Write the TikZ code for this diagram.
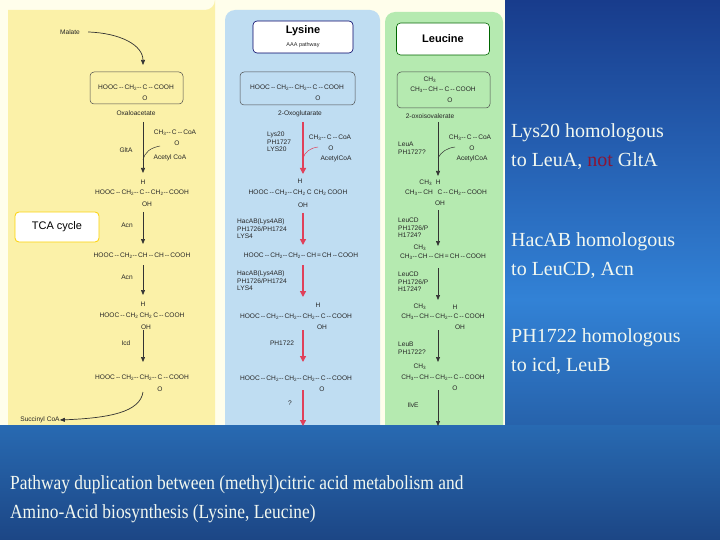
\documentclass[tikz,border=0pt]{standalone}
\usepackage{fontspec}
\setmainfont{Liberation Serif}
\newfontfamily\arialf{Liberation Sans}
\usetikzlibrary{arrows.meta}
\definecolor{ylw}{HTML}{FBF1A8}
\definecolor{blu}{HTML}{BFDDF2}
\definecolor{grn}{HTML}{B5EAB0}
\definecolor{redarr}{HTML}{E0405A}
\definecolor{txtw}{HTML}{F2F8F0}
\definecolor{notred}{HTML}{8A1535}
\definecolor{bgtop}{HTML}{183C8C}
\definecolor{bgmid}{HTML}{3282D6}
\definecolor{bgbot}{HTML}{1C4685}
\newcommand{\sbs}[1]{\textsubscript{#1}}
\begin{document}
\begin{tikzpicture}[x=1pt,y=-1pt,
  chem/.style={font=\arialf\fontsize{6.6}{7.5}\selectfont,inner sep=0pt,text=black!85},
  lbl/.style={chem,align=left,anchor=west},
  ttl/.style={font=\arialf\bfseries\fontsize{11}{12}\selectfont,inner sep=0pt},
  bx/.style={draw=black!70,rounded corners=4pt,line width=0.5pt},
  darr/.style={-{Triangle[length=5pt,width=4pt]},line width=0.7pt,black!80},
  rarr/.style={-{Triangle[length=6pt,width=6pt]},line width=1.3pt,redarr},
  side/.style={font=\fontsize{20}{22}\selectfont,anchor=west,inner sep=0pt,text=txtw},
  bot/.style={side,xscale=0.87}]
\useasboundingbox (0,0) rectangle (720,540);
\shade[top color=bgtop,bottom color=bgmid] (0,0) rectangle (720,300);
\shade[top color=bgmid,bottom color=bgbot] (0,299.5) rectangle (720,540);
% figure area
\fill[white!92!yellow] (0,0) rectangle (505,425);
\fill[ylw] (8,10) -- (205,10) arc[start angle=90,end angle=0,radius=10] -- (215,425) -- (8,425) -- cycle;
\fill[blu,rounded corners=10pt] (225,10) rectangle (380,440);
\fill[grn,rounded corners=10pt] (385,12) rectangle (503,440);
% bottom band
\shade[top color={rgb,255:red,40;green,106;blue,178},bottom color=bgbot] (0,425) rectangle (720,540);

% ===== Yellow / TCA =====
\node[chem] (malate) at (70,32) {Malate};
\node[chem] (oaa) at (136,88) {HOOC\,--\,CH\sbs{2}--\,C\,--\,COOH};
\node[chem] at (145,98) {O};
\draw[bx] (90,72) rectangle (183,104);
\node[chem] (oaal) at (136,113) {Oxaloacetate};
\draw[darr] (malate.east) ++(8,0) .. controls (120,33) and (143,45) .. (143,65);
\node[chem] (accoa1) at (175,133) {CH\sbs{3}--\,C\,--\,CoA};
\node[chem] at (177,143) {O};
\node[chem] at (170,158) {Acetyl CoA};
\node[chem] at (126,150) {GltA};
\coordinate (y1) at (143,122); \coordinate (y2) at (143,173);
\draw[darr] (y1) -- (y2);
\draw[black!80,line width=0.5pt] (160,146) .. controls (150,148) and (145,152) .. (143,160);
\node[chem] at (143,182) {H};
\node[chem] (c1) at (142,193) {HOOC\,--\,CH\sbs{2}--\,C\,--\,CH\sbs{2}--\,COOH};
\node[chem] at (147,204) {OH};
\node[draw=yellow!70!orange,fill=white,rounded corners=4pt,line width=0.8pt,minimum width=84pt,minimum height=30pt,font=\arialf\fontsize{11}{12}\selectfont] (tca) at (57,227) {TCA cycle};
\node[chem] at (127,225) {Acn};
\draw[darr] (143,212) -- (143,244);
\node[chem] at (142,256) {HOOC\,--\,CH\sbs{2}--\,CH\,--\,CH\,--\,COOH};
\node[chem] at (127,277) {Acn};
\draw[darr] (143,265) -- (143,295);
\node[chem] at (143,304) {H};
\node[chem] at (142,316) {HOOC\,--\,CH\sbs{2}\,CH\sbs{2}\,C\,--\,COOH};
\node[chem] at (146,327) {OH};
\node[chem] at (126,343) {Icd};
\draw[darr] (143,330) -- (143,362);
\node[chem] at (142,378) {HOOC\,--\,CH\sbs{2}--\,CH\sbs{2}--\,C\,--\,COOH};
\node[chem] at (160,389) {O};
\node[chem] (succ) at (40,420) {Succinyl CoA};
\draw[darr] (143,392) .. controls (140,412) and (110,418) .. (succ.east);

% ===== Blue / Lysine =====
\node[draw=blue!40!black,fill=white,rounded corners=4pt,line width=0.6pt,minimum width=100pt,minimum height=32pt] (lysbox) at (303,37) {};
\node[ttl] at (303,31) {Lysine};
\node[chem,font=\arialf\fontsize{5.5}{6}\selectfont] at (303,45) {AAA pathway};
\draw[bx] (240,72) rectangle (355,105);
\node[chem] at (297,88) {HOOC\,--\,CH\sbs{2}--\,CH\sbs{2}--\,C\,--\,COOH};
\node[chem] at (318,98) {O};
\node[chem] at (300,114) {2-Oxoglutarate};
\draw[rarr] (303,122) -- (303,174);
\node[lbl] at (267,142) {Lys20\\PH1727\\LYS20};
\node[chem] at (330,138) {CH\sbs{3}--\,C\,--\,CoA};
\node[chem] at (331,148) {O};
\node[chem] at (336,159) {AcetylCoA};
\draw[redarr,line width=0.5pt] (318,147) .. controls (310,148) and (305,152) .. (303,158);
\node[chem] at (300,181) {H};
\node[chem] at (298,193) {HOOC\,--\,CH\sbs{2}--\,CH\sbs{2}\,C\,\,CH\sbs{2}\,COOH};
\node[chem] at (303,205) {OH};
\node[lbl] at (237,229) {HacAB(Lys4AB)\\PH1726/PH1724\\LYS4};
\draw[rarr] (303,213) -- (303,245);
\node[chem] at (301,256) {HOOC\,--\,CH\sbs{2}--\,CH\sbs{2}--\,CH\,=\,CH\,--\,COOH};
\node[lbl] at (237,281) {HacAB(Lys4AB)\\PH1726/PH1724\\LYS4};
\draw[rarr] (303,265) -- (303,297);
\node[chem] at (318,305) {H};
\node[chem] at (296,317) {HOOC\,--\,CH\sbs{2}--\,CH\sbs{2}--\,CH\sbs{2}--\,C\,--\,COOH};
\node[chem] at (322,327) {OH};
\node[chem] at (282,343) {PH1722};
\draw[rarr] (303,330) -- (303,362);
\node[chem] at (296,379) {HOOC\,--\,CH\sbs{2}--\,CH\sbs{2}--\,CH\sbs{2}--\,C\,--\,COOH};
\node[chem] at (322,389) {O};
\node[chem] at (290,403) {?};
\draw[rarr] (303,390) -- (303,426);

% ===== Green / Leucine =====
\node[draw=green!40!black,fill=white,rounded corners=4pt,line width=0.6pt,minimum width=93pt,minimum height=32pt] (leubox) at (443,39) {};
\node[ttl] at (443,39) {Leucine};
\draw[bx] (397,72) rectangle (490,108);
\node[chem] at (430,80) {CH\sbs{3}};
\node[chem] at (443,90) {CH\sbs{3}--\,CH\,--\,C\,--\,COOH};
\node[chem] at (450,100) {O};
\node[chem] at (430,116) {2-oxoisovalerate};
\draw[darr] (438,122) -- (438,176);
\node[lbl] at (398,148) {LeuA\\PH1727?};
\node[chem] at (470,138) {CH\sbs{3}--\,C\,--\,CoA};
\node[chem] at (472,148) {O};
\node[chem] at (472,159) {AcetylCoA};
\draw[black!80,line width=0.5pt] (455,147) .. controls (447,148) and (441,152) .. (438,158);
\node[chem] at (430,183) {CH\sbs{3}\ \ H};
\node[chem] at (446,193) {CH\sbs{3}--\,CH\ \ \,C\,--\,CH\sbs{2}--\,COOH};
\node[chem] at (440,203) {OH};
\node[lbl] at (398,228) {LeuCD\\PH1726/P\\H1724?};
\draw[darr] (438,210) -- (438,246);
\node[chem] at (420,248) {CH\sbs{3}};
\node[chem] at (443,257) {CH\sbs{3}--\,CH\,--\,CH\,=\,CH\,--\,COOH};
\node[lbl] at (398,282) {LeuCD\\PH1726/P\\H1724?};
\draw[darr] (438,268) -- (438,300);
\node[chem] at (420,307) {CH\sbs{3}};
\node[chem] at (455,307) {H};
\node[chem] at (443,317) {CH\sbs{3}--\,CH\,--\,CH\sbs{2}--\,C\,--\,COOH};
\node[chem] at (460,327) {OH};
\node[lbl] at (398,348) {LeuB\\PH1722?};
\draw[darr] (438,330) -- (438,362);
\node[chem] at (420,367) {CH\sbs{3}};
\node[chem] at (443,378) {CH\sbs{3}--\,CH\,--\,CH\sbs{2}--\,C\,--\,COOH};
\node[chem] at (455,388) {O};
\node[chem] at (413,405) {IlvE};
\draw[darr] (438,390) -- (438,426);

% ===== slide text =====
\node[side] (t1) at (511,133) {Lys20 homologous};
\node[side] (t2) at (511,161) {to LeuA, \textcolor{notred}{not} GltA};
\node[side] (t3) at (511,242) {HacAB homologous};
\node[side] (t4) at (511,270) {to LeuCD, Acn};
\node[side] (t5) at (511,338) {PH1722 homologous};
\node[side] (t6) at (511,366) {to icd, LeuB};
\node[bot] (b1) at (10,485) {Pathway duplication between (methyl)citric acid metabolism and};
\node[bot] (b2) at (10,514) {Amino-Acid biosynthesis (Lysine, Leucine)};
\end{tikzpicture}
\end{document}
